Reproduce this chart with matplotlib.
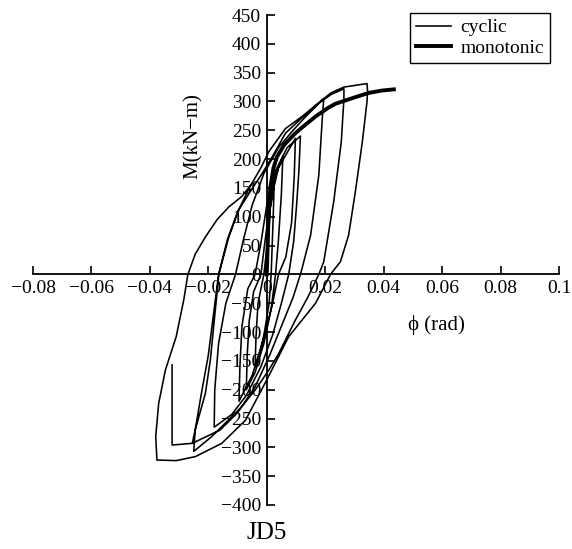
import matplotlib
matplotlib.use('Agg')
import matplotlib.pyplot as plt

plt.rcParams['font.family'] = ['Liberation Serif', 'DejaVu Serif']

# cyclic test, one list of (phi, M) points per cycle
loop1 = [(0, 0), (0.0005, 60), (0.0012, 115), (0.0025, 150),
         (0.0022, 100), (0.0018, 40), (0.0015, 0), (0.0008, -50), (-0.0008, -100),
         (-0.0025, -140), (-0.004, -160)]
loop2 = [(-0.0037, -110), (-0.003, -50), (-0.001, 0), (0.0, 45), (0.001, 110),
         (0.0025, 165), (0.0055, 205),
         (0.005, 140), (0.004, 60), (0.003, 0), (0.0015, -60), (-0.001, -120),
         (-0.004, -170), (-0.007, -200)]
loop3 = [(-0.0067, -140), (-0.006, -80), (-0.0045, -30), (-0.002, 0), (-0.0008, 50),
         (0.001, 120), (0.004, 185), (0.0098, 236),
         (0.0094, 170), (0.0085, 90), (0.0065, 30), (0.004, 0), (0.002, -50),
         (-0.001, -110), (-0.005, -175), (-0.0095, -220)]
loop4 = [(-0.0092, -160), (-0.0085, -90), (-0.0065, -25), (-0.004, 0), (-0.002, 55),
         (0.0, 120), (0.003, 180), (0.007, 220), (0.0115, 240),
         (0.011, 180), (0.0102, 120), (0.0092, 57), (0.0075, 0), (0.005, -50),
         (0.002, -105), (-0.002, -160), (-0.007, -210), (-0.012, -243), (-0.018, -265)]
loop5 = [(-0.0178, -200), (-0.0165, -120), (-0.014, -50), (-0.0107, 0), (-0.008, 60),
         (-0.005, 120), (-0.001, 175), (0.004, 220), (0.009, 250), (0.013, 272),
         (0.0195, 305),
         (0.019, 271), (0.0178, 172), (0.015, 68), (0.0121, 11), (0.0115, 0),
         (0.009, -40), (0.005, -90), (0.001, -140), (-0.004, -195), (-0.01, -240),
         (-0.016, -270), (-0.0255, -293)]
loop6 = [(-0.0245, -270), (-0.021, -206), (-0.0193, -148), (-0.0176, -62),
         (-0.0164, 0), (-0.013, 65), (-0.0096, 112), (-0.006, 141), (-0.0016, 175),
         (0.002, 205), (0.0064, 245), (0.0121, 272), (0.0178, 297), (0.022, 312),
         (0.0264, 322),
         (0.0264, 305), (0.0255, 230), (0.0229, 126), (0.0195, 22), (0.0178, 0),
         (0.014, -40), (0.0098, -79), (0.0041, -137), (0.0007, -166), (-0.0039, -200),
         (-0.0085, -229), (-0.013, -252), (-0.019, -282), (-0.025, -307)]
loop7 = [(-0.0245, -270), (-0.0225, -210), (-0.02, -140), (-0.018, -60),
         (-0.0165, 0), (-0.0135, 60), (-0.01, 108), (-0.006, 150), (-0.002, 185),
         (0.0007, 213), (0.0064, 253), (0.0121, 274), (0.0178, 298), (0.022, 315),
         (0.0264, 325), (0.0343, 331),
         (0.0345, 318), (0.0343, 300), (0.0327, 230), (0.0303, 143), (0.028, 68),
         (0.0252, 22), (0.0218, 0), (0.0167, -50), (0.0075, -108), (0.0, -183),
         (-0.0073, -253), (-0.0154, -293), (-0.0244, -316), (-0.031, -323),
         (-0.0376, -322)]
last_reload = [(-0.038, -281), (-0.037, -224), (-0.0347, -166), (-0.031, -108),
               (-0.0284, -44), (-0.027, 0), (-0.0245, 35), (-0.021, 65),
               (-0.017, 95), (-0.013, 117), (-0.0086, 135), (-0.005, 158)]
stub = [(-0.0255, -293), (-0.0324, -296), (-0.0324, -157)]

# monotonic curve
mono_phi = [0, 0.0003, 0.0006, 0.0012, 0.0023, 0.0035, 0.006, 0.0098, 0.0121,
            0.0167, 0.021, 0.0235, 0.03, 0.035, 0.0395, 0.0435]
mono_m = [0, 50, 100, 150, 185, 204, 225, 245, 255, 274, 289, 296, 307, 315, 319, 321]

xticks = [-0.08, -0.06, -0.04, -0.02, 0, 0.02, 0.04, 0.06, 0.08, 0.1]
xlabels = ['\u22120.08', '\u22120.06', '\u22120.04', '\u22120.02', '0',
           '0.02', '0.04', '0.06', '0.08', '0.1']
yticks = list(range(-400, 451, 50))
ylabels = [str(v).replace('-', '\u2212') for v in yticks]

cyclic = loop1 + loop2 + loop3 + loop4 + loop5 + loop6 + loop7 + last_reload
cyc_phi = [p[0] for p in cyclic]
cyc_m = [p[1] for p in cyclic]

fig = plt.figure(figsize=(5.72, 5.49), dpi=100)
ax = fig.add_axes([33 / 572, 1 - 505 / 549, 526 / 572, 490 / 549])

ax.plot(cyc_phi, cyc_m, color='black', lw=1.15, label='cyclic')
ax.plot([p[0] for p in stub], [p[1] for p in stub], color='black', lw=1.15)
ax.plot(mono_phi, mono_m, color='black', lw=2.8, label='monotonic')

ax.set_xlim(-0.08, 0.1)
ax.set_ylim(-400, 450)
for s in ['top', 'right']:
    ax.spines[s].set_visible(False)
ax.spines['left'].set_position(('data', 0))
ax.spines['bottom'].set_position(('data', 0))
ax.spines['left'].set_linewidth(1.3)
ax.spines['bottom'].set_linewidth(1.3)
ax.set_xticks(xticks)
ax.set_xticklabels(xlabels)
ax.set_yticks(yticks)
ax.set_yticklabels(ylabels)
ax.tick_params(direction='in', length=6, width=1.2, labelsize=14, pad=4)

ax.text(-0.025, 240, 'M(kN\u2212m)', rotation=90, ha='center', va='center', fontsize=15)
ax.text(0.058, -88, '\u03d5 (rad)', ha='center', va='center', fontsize=15)
fig.text(267 / 572, 1 - 533 / 549, 'JD5', ha='center', va='center', fontsize=18)

leg = ax.legend(loc='upper right', bbox_to_anchor=(550 / 572, 1 - 13 / 549),
                bbox_transform=fig.transFigure, borderaxespad=0, fancybox=False,
                edgecolor='black', framealpha=1, fontsize=14, handlelength=1.8,
                handletextpad=0.5, labelspacing=0.15, borderpad=0.3)
leg.get_frame().set_linewidth(1.0)

fig.savefig('out.png', dpi=100)
